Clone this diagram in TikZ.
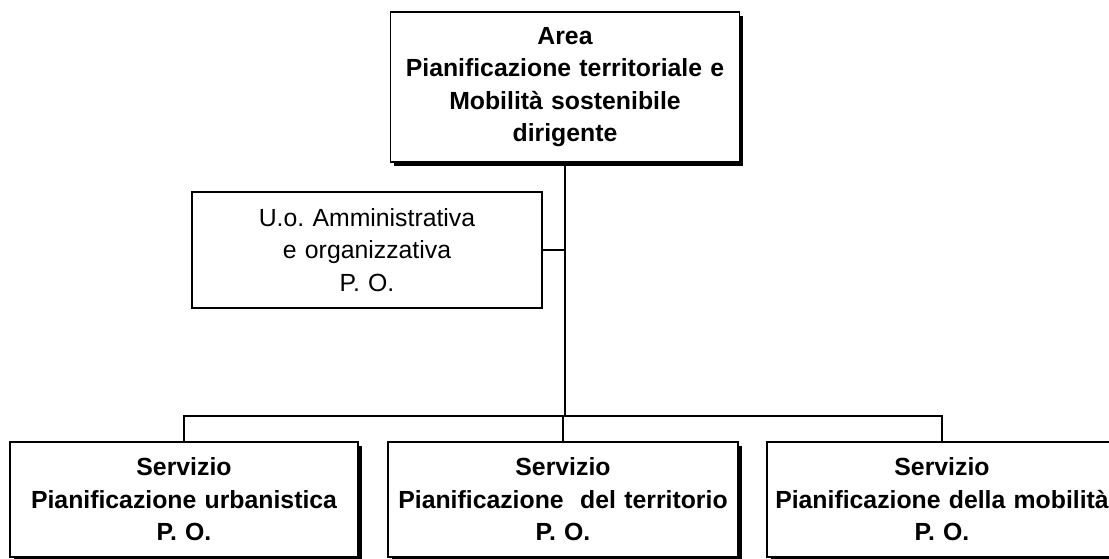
\documentclass[tikz,border=0pt]{standalone}
\usepackage{fontspec}
\setmainfont{Liberation Sans}
\usepackage{tikz}
\usetikzlibrary{shadows}
\frenchspacing

\tikzset{
  unit/.style={draw=black, line width=0.9pt, fill=white, inner sep=0pt, align=center,
    font=\fontsize{12.4}{16.2}\selectfont},
  head/.style={unit, font=\fontsize{12.4}{16.2}\selectfont\bfseries,
    general shadow={fill=black, shadow xshift=1.8pt, shadow yshift=-1.8pt}},
  link/.style={draw=black, line width=0.9pt}
}

\begin{document}
\begin{tikzpicture}[x=0.5pt, y=-0.5pt]
\useasboundingbox (0,0) rectangle (1109,558);
\clip (0,0) rectangle (1109,558);
% dirigente
\node[head, minimum width=174.5pt, minimum height=75pt, text width=172pt] (area) at (565,87)
  {Area\\Pianificazione territoriale e\\Mobilità sostenibile\\dirigente};
% staff
\node[unit, minimum width=175pt, minimum height=58pt, text width=172pt] (uo) at (367,250)
  {U.o. Amministrativa\\e organizzativa\\P. O.};
% servizi
\node[head, minimum width=174pt, minimum height=57.5pt, text width=172pt] (urb) at (184,499.5)
  {Servizio\\Pianificazione urbanistica\\P. O.};
\node[head, minimum width=175pt, minimum height=57.5pt, text width=172pt] (terr) at (563,499.5)
  {Servizio\\Pianificazione\ \ del territorio\\P. O.};
\node[head, minimum width=175pt, minimum height=57.5pt, text width=172pt] (mob) at (942,499.5)
  {Servizio\\Pianificazione della mobilità\\P. O.};
\coordinate (bus) at (565,416);
\draw[link] (area.south) -- (bus);
\draw[link] (uo.east) -- (uo.east -| area.south);
\draw[link] (urb.north) |- (bus) -| (mob.north);
\draw[link] (bus -| terr.north) -- (terr.north);
\end{tikzpicture}
\end{document}
